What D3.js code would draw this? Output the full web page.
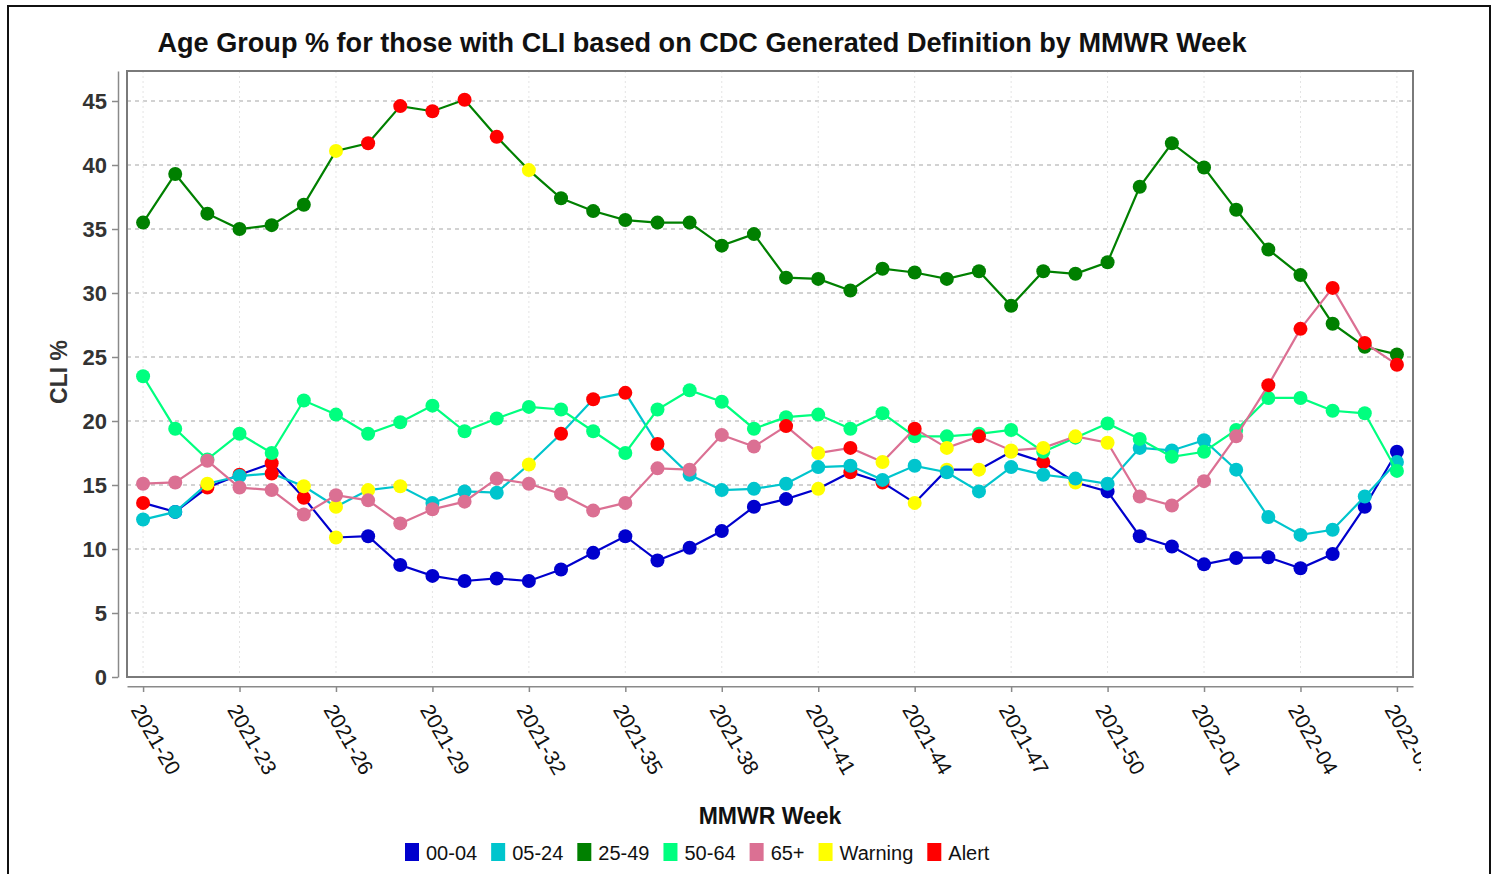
<!DOCTYPE html>
<html>
<head>
<meta charset="utf-8">
<script src="https://cdn.jsdelivr.net/npm/d3@7"></script>
<style>
    html, body { margin: 0; padding: 0; background: #fff; }
    svg { display: block; font-family: "Liberation Sans", Arial, sans-serif; }
</style>
</head>
<body>
<svg id="chart" width="1497" height="874"></svg>
<script>
// MMWR weeks, 2021-20 .. 2022-07
const weeks = [
    '2021-20', '2021-21', '2021-22', '2021-23', '2021-24', '2021-25', '2021-26', '2021-27',
    '2021-28', '2021-29', '2021-30', '2021-31', '2021-32', '2021-33', '2021-34', '2021-35',
    '2021-36', '2021-37', '2021-38', '2021-39', '2021-40', '2021-41', '2021-42', '2021-43',
    '2021-44', '2021-45', '2021-46', '2021-47', '2021-48', '2021-49', '2021-50', '2021-51',
    '2021-52', '2022-01', '2022-02', '2022-03', '2022-04', '2022-05', '2022-06', '2022-07'
];
const tickWeeks = weeks.filter((w, i) => i % 3 === 0);
const yTicks = [0, 5, 10, 15, 20, 25, 30, 35, 40, 45];

const age0004 = [13.6, 12.9, 14.8, 15.8, 16.7, 14.0, 10.9, 11.0, 8.75, 7.9, 7.5, 7.7, 7.5, 8.4, 9.7, 11.0,
    9.1, 10.1, 11.4, 13.3, 13.9, 14.7, 16.0, 15.2, 13.6, 16.2, 16.2, 17.6, 16.8, 15.2, 14.5, 11.0,
    10.2, 8.8, 9.3, 9.35, 8.5, 9.6, 13.3, 17.6];
const age0524 = [12.3, 12.9, 15.1, 15.7, 15.9, 14.9, 13.3, 14.6, 14.9, 13.6, 14.5, 14.4, 16.6, 19.0, 21.7, 22.2,
    18.2, 15.8, 14.6, 14.7, 15.1, 16.4, 16.5, 15.4, 16.5, 16.0, 14.5, 16.4, 15.8, 15.5, 15.1, 17.9,
    17.7, 18.5, 16.2, 12.5, 11.1, 11.5, 14.1, 16.8];
const age2549 = [35.5, 39.3, 36.2, 35.0, 35.3, 36.9, 41.1, 41.7, 44.6, 44.2, 45.1, 42.2, 39.6, 37.4, 36.4, 35.7,
    35.5, 35.5, 33.7, 34.6, 31.2, 31.1, 30.2, 31.9, 31.6, 31.1, 31.7, 29.0, 31.7, 31.5, 32.4, 38.3,
    41.7, 39.8, 36.5, 33.4, 31.4, 27.6, 25.8, 25.2];
const age5064 = [23.5, 19.4, 17.0, 19.0, 17.5, 21.6, 20.5, 19.0, 19.9, 21.2, 19.2, 20.2, 21.1, 20.9, 19.2, 17.5,
    20.9, 22.4, 21.5, 19.4, 20.3, 20.5, 19.4, 20.6, 18.8, 18.8, 19.0, 19.3, 17.6, 18.7, 19.8, 18.6,
    17.2, 17.6, 19.3, 21.8, 21.8, 20.8, 20.6, 16.1];
const age65 = [15.1, 15.2, 16.9, 14.8, 14.6, 12.7, 14.2, 13.8, 12.0, 13.1, 13.7, 15.5, 15.1, 14.3, 13.0, 13.6,
    16.3, 16.2, 18.9, 18.0, 19.6, 17.5, 17.9, 16.8, 19.4, 17.9, 18.8, 17.7, 17.9, 18.8, 18.3, 14.1,
    13.4, 15.3, 18.8, 22.8, 27.2, 30.4, 26.1, 24.4];

// point status: 0 = normal, 1 = warning, 2 = alert
const flag0004 = [2, 0, 2, 2, 2, 2, 1, 0, 0, 0, 0, 0, 0, 0, 0, 0, 0, 0, 0, 0, 0, 1, 2, 2, 1, 1, 1, 1, 2, 1, 0, 0, 0, 0, 0, 0, 0, 0, 0, 0];
const flag0524 = [0, 0, 1, 0, 2, 1, 1, 1, 1, 0, 0, 0, 1, 2, 2, 2, 2, 0, 0, 0, 0, 0, 0, 0, 0, 0, 0, 0, 0, 0, 0, 0, 0, 0, 0, 0, 0, 0, 0, 0];
const flag2549 = [0, 0, 0, 0, 0, 0, 1, 2, 2, 2, 2, 2, 1, 0, 0, 0, 0, 0, 0, 0, 0, 0, 0, 0, 0, 0, 0, 0, 0, 0, 0, 0, 0, 0, 0, 0, 0, 0, 0, 0];
const flag5064 = [0, 0, 0, 0, 0, 0, 0, 0, 0, 0, 0, 0, 0, 0, 0, 0, 0, 0, 0, 0, 0, 0, 0, 0, 0, 0, 0, 0, 0, 0, 0, 0, 0, 0, 0, 0, 0, 0, 0, 0];
const flag65 = [0, 0, 0, 0, 0, 0, 0, 0, 0, 0, 0, 0, 0, 0, 0, 0, 0, 0, 0, 0, 2, 1, 2, 1, 2, 1, 2, 1, 1, 1, 1, 0, 0, 0, 0, 2, 2, 2, 2, 2];

const seriesNames = ['00-04', '05-24', '25-49', '50-64', '65+'];
const seriesColors = ['#0000cd', '#00c5cd', '#008000', '#00ff7f', '#db7093'];
const seriesValues = [age0004, age0524, age2549, age5064, age65];
const seriesFlags = [flag0004, flag0524, flag2549, flag5064, flag65];
const statusNames = ['Warning', 'Alert'];
const statusColors = ['#ffff00', '#ff0000'];

const plot = { left: 127, right: 1413, top: 71, bottom: 677 };

const svg = d3.select('#chart');

// outer figure border
svg.append('rect')
    .attr('x', 8).attr('y', 6)
    .attr('width', 1482).attr('height', 880)
    .attr('fill', 'none')
    .attr('stroke', '#111')
    .attr('stroke-width', 2);

const x = d3.scalePoint()
    .domain(weeks)
    .range([plot.left, plot.right])
    .padding(0.5);

const y = d3.scaleLinear()
    .domain([0, 45])
    .range([plot.bottom, 101]);

// grid
const grid = svg.append('g').attr('class', 'grid');
grid.selectAll('line.h')
    .data(yTicks.filter(d => d > 0))
    .enter()
    .append('line')
    .attr('class', 'h')
    .attr('x1', plot.left).attr('x2', plot.right)
    .attr('y1', d => y(d)).attr('y2', d => y(d))
    .attr('stroke', '#c4c4c4')
    .attr('stroke-width', 1.5)
    .attr('stroke-dasharray', '4,4');
grid.selectAll('line.v')
    .data(tickWeeks)
    .enter()
    .append('line')
    .attr('class', 'v')
    .attr('x1', d => x(d)).attr('x2', d => x(d))
    .attr('y1', plot.top).attr('y2', plot.bottom)
    .attr('stroke', '#e4e4e4')
    .attr('stroke-width', 1)
    .attr('stroke-dasharray', '2,3');

// plot frame
svg.append('rect')
    .attr('x', plot.left).attr('y', plot.top)
    .attr('width', plot.right - plot.left)
    .attr('height', plot.bottom - plot.top)
    .attr('fill', 'none')
    .attr('stroke', '#7a7a7a')
    .attr('stroke-width', 2);

// y axis (offset from the frame)
const yAxisScale = y.copy().domain([0, y.invert(plot.top)]).range([plot.bottom, plot.top]);
const yAxis = svg.append('g')
    .attr('transform', 'translate(118,0)')
    .call(d3.axisLeft(yAxisScale).tickValues(yTicks).tickSize(6).tickSizeOuter(0).tickPadding(5));
yAxis.select('.domain').attr('stroke', '#8a8a8a').attr('stroke-width', 1.5);
yAxis.selectAll('.tick line').attr('stroke', '#8a8a8a').attr('stroke-width', 1.5);
yAxis.selectAll('.tick text')
    .attr('font-size', 22)
    .attr('font-weight', 'bold')
    .attr('fill', '#333')
    .attr('font-family', '"Liberation Sans", Arial, sans-serif');

// x axis (offset below the frame)
svg.append('clipPath').attr('id', 'xclip')
    .append('rect').attr('x', 0).attr('y', 0).attr('width', 1421).attr('height', 874);
const xAxis = svg.append('g')
    .attr('clip-path', 'url(#xclip)')
    .attr('transform', 'translate(0,686)')
    .call(d3.axisBottom(x).tickValues(tickWeeks).tickSize(6).tickSizeOuter(0));
xAxis.select('.domain').attr('stroke', '#8a8a8a').attr('stroke-width', 2);
xAxis.selectAll('.tick line').attr('stroke', '#8a8a8a').attr('stroke-width', 1.5);
xAxis.selectAll('.tick text')
    .attr('font-size', 21)
    .attr('fill', '#111')
    .attr('font-family', '"Liberation Sans", Arial, sans-serif')
    .attr('text-anchor', 'start')
    .attr('x', 0).attr('y', 0)
    .attr('dy', '0.35em')
    .attr('transform', 'translate(-7,20) rotate(60)');

// series
const line = d3.line()
    .x((d, i) => x(weeks[i]))
    .y(d => y(d));

seriesValues.forEach((values, s) => {
    const g = svg.append('g').attr('class', 'series');
    g.append('path')
        .datum(values)
        .attr('d', line)
        .attr('fill', 'none')
        .attr('stroke', seriesColors[s])
        .attr('stroke-width', 2.2);
    g.selectAll('circle')
        .data(values)
        .enter()
        .append('circle')
        .attr('cx', (d, i) => x(weeks[i]))
        .attr('cy', d => y(d))
        .attr('r', 7)
        .attr('fill', (d, i) => seriesFlags[s][i] ? statusColors[seriesFlags[s][i] - 1] : seriesColors[s]);
});

// titles
svg.append('text')
    .attr('x', 702).attr('y', 52)
    .attr('text-anchor', 'middle')
    .attr('font-size', 27)
    .attr('font-weight', 'bold')
    .attr('fill', '#111')
    .attr('textLength', 1089)
    .attr('lengthAdjust', 'spacingAndGlyphs')
    .text('Age Group % for those with CLI based on CDC Generated Definition by MMWR Week');

svg.append('text')
    .attr('transform', 'translate(67,372) rotate(-90)')
    .attr('text-anchor', 'middle')
    .attr('font-size', 23)
    .attr('font-weight', 'bold')
    .attr('fill', '#333')
    .text('CLI %');

svg.append('text')
    .attr('x', 770).attr('y', 824)
    .attr('text-anchor', 'middle')
    .attr('font-size', 23)
    .attr('font-weight', 'bold')
    .attr('fill', '#111')
    .text('MMWR Week');

// legend
const legendItems = seriesNames.map((n, i) => ({ name: n, color: seriesColors[i] }))
    .concat(statusNames.map((n, i) => ({ name: n, color: statusColors[i] })));
const legend = svg.append('g').attr('class', 'legend');
let lx = 405;
legendItems.forEach(item => {
    const it = legend.append('g').attr('transform', `translate(${lx},0)`);
    it.append('rect')
        .attr('x', 0).attr('y', 843)
        .attr('width', 14).attr('height', 18)
        .attr('fill', item.color);
    const t = it.append('text')
        .attr('x', 21).attr('y', 860)
        .attr('font-size', 20)
        .attr('fill', '#111')
        .text(item.name);
    lx += 21 + t.node().getComputedTextLength() + 14;
});
</script>
</body>
</html>
